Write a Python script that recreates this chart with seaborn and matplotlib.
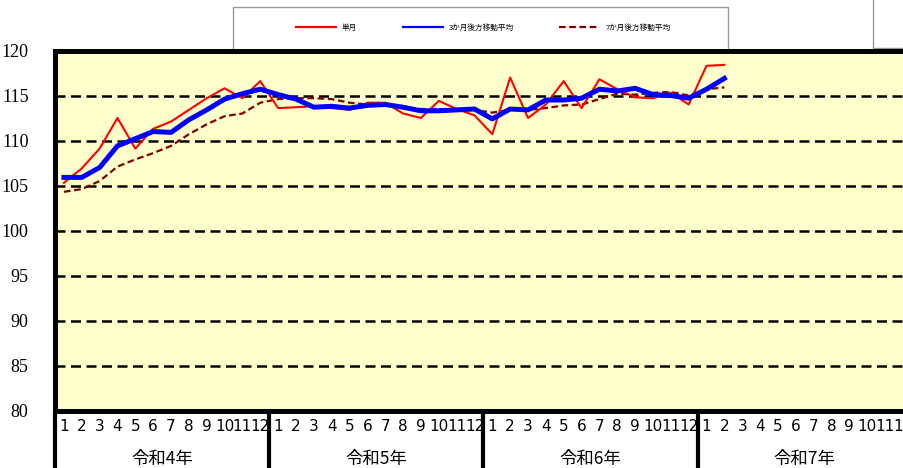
import matplotlib
matplotlib.use("Agg")
import matplotlib.pyplot as plt
from matplotlib.patches import Rectangle
import seaborn as sns
import numpy as np
import pandas as pd

# data
years = ["令和4年", "令和5年", "令和6年", "令和7年"]
month_labels = [str(m) for m in range(1, 13)]

single = [105.3, 106.9, 109.1, 112.5, 109.1, 111.3, 112.1, 113.4, 114.7, 115.8, 114.7, 116.6,
          113.6, 113.7, 113.8, 113.6, 113.4, 114.2, 114.2, 113.0, 112.5, 114.4, 113.5, 112.8,
          110.7, 117.0, 112.5, 114.0, 116.6, 113.6, 116.8, 115.7, 114.8, 114.7, 115.3, 114.0,
          118.3, 118.4]
ma3 = [105.9, 105.9, 107.0, 109.4, 110.2, 111.0, 110.9, 112.3, 113.4, 114.6, 115.2, 115.7,
       115.1, 114.6, 113.7, 113.8, 113.6, 113.9, 114.0, 113.7, 113.3, 113.3, 113.4, 113.5,
       112.4, 113.5, 113.4, 114.5, 114.5, 114.7, 115.7, 115.5, 115.8, 115.1, 115.0, 114.7,
       115.7, 116.9]
ma7 = [104.3, 104.6, 105.5, 107.1, 107.9, 108.6, 109.4, 110.7, 111.8, 112.7, 113.0, 114.2,
       114.6, 114.7, 114.7, 114.6, 114.2, 114.0, 113.9, 113.7, 113.5, 113.5, 113.4, 113.4,
       113.1, 113.4, 113.4, 113.6, 113.9, 114.0, 114.6, 115.2, 115.1, 115.3, 115.4, 115.0,
       115.7, 115.9]
series_names = ["単月", "3か月後方移動平均", "7か月後方移動平均"]

df = pd.DataFrame({"idx": np.arange(len(single)), "single": single, "ma3": ma3, "ma7": ma7})

fig = plt.figure(figsize=(9.04, 4.68), dpi=100)
W, H = 904, 468
ax = fig.add_axes([55 / W, 1 - 410.5 / H, (911.8 - 55) / W, 360 / H])
ax.set_facecolor("#ffffcc")

sns.lineplot(data=df, x="idx", y="ma7", ax=ax, color="#800000", lw=1.6,
             linestyle=(0, (3, 1.6)), label=series_names[2], zorder=3)
sns.lineplot(data=df, x="idx", y="single", ax=ax, color="#ff0000", lw=1.5,
             label=series_names[0], zorder=4)
sns.lineplot(data=df, x="idx", y="ma3", ax=ax, color="#0000ff", lw=3.6,
             label=series_names[1], zorder=5)
handles, labels = ax.get_legend_handles_labels()
ax.get_legend().remove()
order = [labels.index(n) for n in series_names]

ax.set_xlim(-0.5, 47.5)
ax.set_ylim(80, 120)
ax.set_yticks(np.arange(80, 121, 5))
ax.set_xticks(np.arange(48))
ax.set_xticklabels(month_labels * 4, family=["Liberation Sans Narrow", "DejaVu Sans"],
                   fontsize=11)
ax.tick_params(axis="x", length=0, pad=6)
ax.tick_params(axis="y", length=0, pad=19, labelsize=13)
for t in ax.get_yticklabels():
    t.set_family(["Liberation Serif", "DejaVu Serif"])
ax.set_xlabel("")
ax.set_ylabel("")

for y in range(85, 120, 5):
    ax.axhline(y, color="black", lw=1.8, linestyle=(0, (4, 2.2)), zorder=1)

for side in ["top", "left", "bottom"]:
    ax.spines[side].set_linewidth(3.6)
    ax.spines[side].set_color("black")
ax.spines["right"].set_visible(False)

xt = ax.get_xaxis_transform()
for k in range(len(years) + 1):
    ax.plot([12 * k - 0.5] * 2, [0, -0.2], transform=xt, color="black", lw=3,
            clip_on=False, solid_capstyle="butt")
for k, yl in enumerate(years):
    ax.text(12 * k + 5.5, -0.135, yl, transform=xt, ha="center", va="center",
            fontsize=12.5, family=["Noto Sans CJK JP", "DejaVu Sans"])

# legend box and neighbouring frame
fig.add_artist(Rectangle((233 / W, 1 - 50 / H), (728 - 233) / W, 43 / H,
                         transform=fig.transFigure, facecolor="white",
                         edgecolor="#999999", lw=1, zorder=-1))
fig.add_artist(Rectangle((873 / W, 1 - 48 / H), 0.1, 0.2,
                         transform=fig.transFigure, facecolor="white",
                         edgecolor="#999999", lw=1, zorder=-1))

leg = fig.legend([handles[i] for i in order], [labels[i] for i in order],
                 loc="center", bbox_to_anchor=(483 / W, 1 - 28 / H), ncol=3,
                 frameon=False, handlelength=5.3, handletextpad=0.7,
                 columnspacing=6.0, prop={"family": ["Noto Sans CJK JP", "DejaVu Sans"],
                                          "size": 5.5})
for ln in leg.get_lines():
    ln.set_linewidth(1.6)

fig.savefig("out.png", dpi=100)
